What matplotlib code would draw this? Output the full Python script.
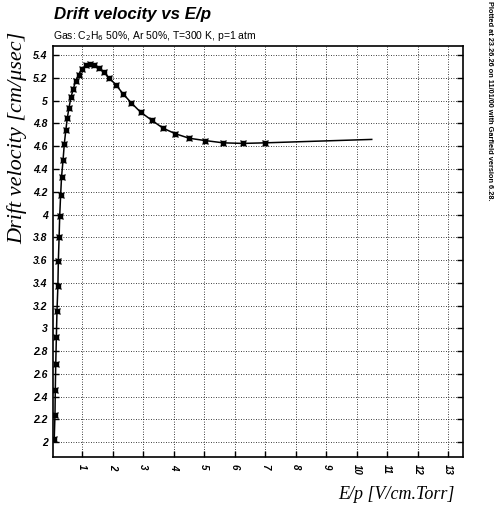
import matplotlib
matplotlib.use("Agg")
from matplotlib import pyplot
import numpy as np

# 測定点 (E/p, drift velocity)
ep_values = [0.08, 0.105, 0.115, 0.13, 0.15, 0.17, 0.20, 0.215, 0.24, 0.26,
             0.29, 0.32, 0.37, 0.41, 0.46, 0.51, 0.565, 0.63, 0.70, 0.78,
             0.88, 0.99, 1.11, 1.24, 1.39, 1.55, 1.70, 1.88, 2.10, 2.34,
             2.61, 2.91, 3.27, 3.64, 4.05, 4.51, 5.03, 5.62, 6.27, 6.99]
drift_values = [2.03, 2.24, 2.46, 2.69, 2.92, 3.15, 3.37, 3.59, 3.80, 3.99,
                4.17, 4.33, 4.48, 4.62, 4.74, 4.85, 4.94, 5.03, 5.10, 5.17,
                5.23, 5.28, 5.31, 5.32, 5.31, 5.29, 5.25, 5.20, 5.14, 5.06,
                4.98, 4.90, 4.83, 4.76, 4.71, 4.67, 4.65, 4.63, 4.625, 4.63]
# 外挿部分
extrap_ep = [6.99, 10.49]
extrap_drift = [4.63, 4.66]

x_ticks = list(range(1, 14))
y_ticks = [2.0, 2.2, 2.4, 2.6, 2.8, 3.0, 3.2, 3.4, 3.6, 3.8, 4.0, 4.2, 4.4,
           4.6, 4.8, 5.0, 5.2, 5.4]
y_tick_labels = ["2", "2.2", "2.4", "2.6", "2.8", "3", "3.2", "3.4", "3.6",
                 "3.8", "4", "4.2", "4.4", "4.6", "4.8", "5", "5.2", "5.4"]

sans = "Liberation Sans"
serif = "Liberation Serif"

fig = pyplot.figure(figsize=(5.01, 5.12), dpi=100)
ax = fig.add_axes([0.1064, 0.1074, 0.8176, 0.8026])

ax.plot(ep_values, drift_values, color="black", lw=1.1, zorder=3)
ax.plot(extrap_ep, extrap_drift, color="black", lw=1.1, zorder=3)
ax.plot(ep_values, drift_values, ls="none", marker="s", ms=2.5,
        color="black", zorder=4)
ax.plot(ep_values, drift_values, ls="none", marker="x", ms=3.8,
        mew=0.9, color="black", zorder=4)

ax.set_xlim(0.05, 13.48)
ax.set_ylim(1.87, 5.48)
ax.set_xticks(x_ticks)
ax.set_yticks(y_ticks)
ax.set_xticklabels([str(t) for t in x_ticks], rotation=-90,
                   fontfamily=sans, fontweight="bold", fontstyle="italic",
                   fontsize=7)
ax.set_yticklabels(y_tick_labels, fontfamily=sans, fontweight="bold",
                   fontstyle="italic", fontsize=7.5)
ax.tick_params(axis="both", direction="in", length=4, width=1,
               top=False, right=True, pad=4)
ax.tick_params(axis="x", pad=5)

# グリッド線
ax.grid(True, linestyle=(0, (1, 2)), color="black", lw=0.6, zorder=0)
for sp in ax.spines.values():
    sp.set_linewidth(1.2)

fig.text(0.108, 0.962, "Drift velocity vs E/p", fontfamily=sans,
         fontweight="bold", fontstyle="italic", fontsize=12.2, ha="left",
         va="baseline")
fig.text(0.106, 0.924, r"Gas: C$_2$H$_6$ 50%, Ar 50%, T=300 K, p=1 atm",
         fontfamily=sans, fontsize=7.5, ha="left", va="baseline")
fig.text(0.034, 0.73, "Drift velocity [cm/\u03bcsec]", fontfamily=serif,
         fontstyle="italic", fontsize=16, rotation=90, ha="center",
         va="center")
fig.text(0.908, 0.025, "E/p [V/cm.Torr]", fontfamily=serif,
         fontstyle="italic", fontsize=13, ha="right", va="baseline")
fig.text(0.978, 0.998,
         "Plotted at 23.26.26 on 11/01/00 with Garfield version 6.28.",
         fontfamily=sans, fontweight="bold", fontsize=5.3, rotation=-90,
         ha="center", va="top")

fig.savefig("out.png", dpi=100)
pyplot.close(fig)
